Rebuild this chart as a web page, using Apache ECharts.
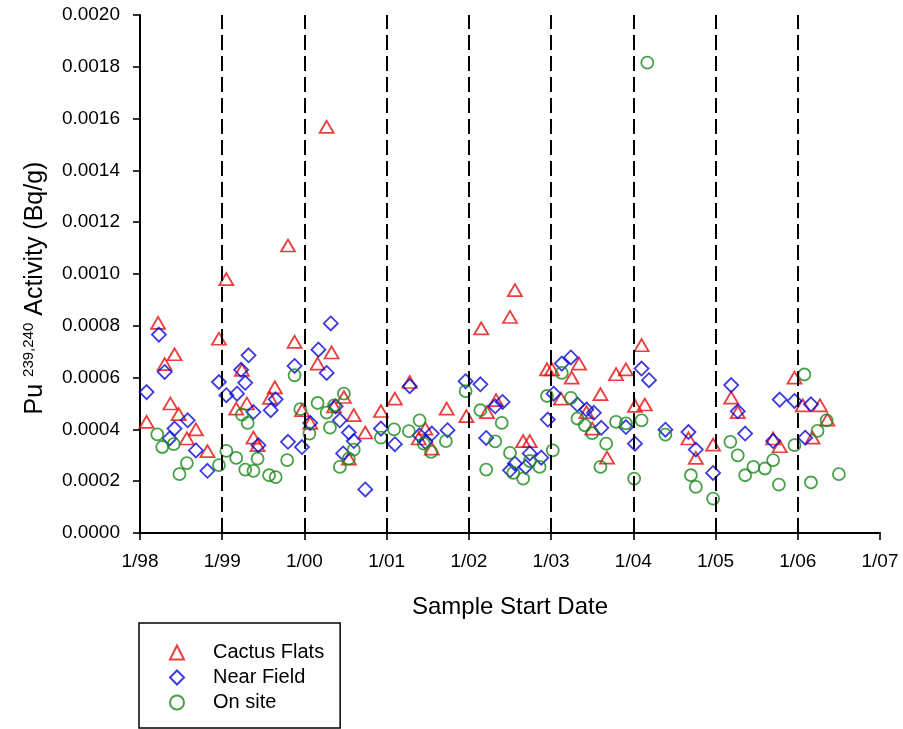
<!DOCTYPE html>
<html>
<head>
<meta charset="utf-8">
<title>Pu 239,240 Activity</title>
<script src="https://cdn.jsdelivr.net/npm/echarts@6/dist/echarts.min.js"></script>
<style>
  html, body { margin: 0; padding: 0; background: #fff; }
  #chart { width: 903px; height: 729px; }
</style>
</head>
<body>
<div id="chart"></div>
<script>
// Sample start dates are decimal years; activities in Bq/g.
const cactusDates = [
  1998.08, 1998.22, 1998.30, 1998.37, 1998.42, 1998.47, 1998.57, 1998.68, 1998.82, 1998.96,
  1999.05, 1999.17, 1999.24, 1999.30, 1999.38, 1999.43, 1999.58, 1999.64, 1999.80, 1999.88,
  1999.97, 2000.07, 2000.16, 2000.27, 2000.33, 2000.36, 2000.48, 2000.54, 2000.60, 2000.74,
  2000.93, 2001.10, 2001.28, 2001.39, 2001.47, 2001.55, 2001.73, 2001.97, 2002.15, 2002.22,
  2002.33, 2002.50, 2002.56, 2002.66, 2002.74, 2002.95, 2003.01, 2003.12, 2003.25, 2003.34,
  2003.43, 2003.50, 2003.60, 2003.68, 2003.79, 2003.91, 2004.02, 2004.10, 2004.14, 2004.67,
  2004.76, 2004.97, 2005.19, 2005.27, 2005.70, 2005.78, 2005.96, 2006.06, 2006.18, 2006.27,
  2006.36
];
const cactusValues = [
  0.000429, 0.000811, 0.000652, 0.000500, 0.000690, 0.000459, 0.000365, 0.000400, 0.000316, 0.000750,
  0.000980, 0.000480, 0.000630, 0.000500, 0.000368, 0.000339, 0.000522, 0.000562, 0.001110, 0.000738,
  0.000474, 0.000425, 0.000654, 0.001568, 0.000697, 0.000489, 0.000525, 0.000287, 0.000455, 0.000388,
  0.000471, 0.000519, 0.000583, 0.000365, 0.000403, 0.000326, 0.000480, 0.000451, 0.000790, 0.000467,
  0.000513, 0.000834, 0.000938, 0.000355, 0.000355, 0.000632, 0.000632, 0.000519, 0.000600, 0.000654,
  0.000467, 0.000403, 0.000536, 0.000291, 0.000613, 0.000632, 0.000491, 0.000725, 0.000496, 0.000365,
  0.000290, 0.000341, 0.000523, 0.000467, 0.000365, 0.000335, 0.000600, 0.000493, 0.000368, 0.000493,
  0.000438
];

const nearDates = [
  1998.08, 1998.23, 1998.30, 1998.36, 1998.42, 1998.58, 1998.68, 1998.82, 1998.96, 1999.05,
  1999.18, 1999.23, 1999.28, 1999.32, 1999.38, 1999.44, 1999.59, 1999.65, 1999.80, 1999.88,
  1999.97, 2000.07, 2000.17, 2000.27, 2000.32, 2000.38, 2000.43, 2000.47, 2000.54, 2000.60,
  2000.74, 2000.93, 2001.10, 2001.28, 2001.40, 2001.47, 2001.55, 2001.74, 2001.96, 2002.14,
  2002.21, 2002.32, 2002.41, 2002.50, 2002.56, 2002.69, 2002.74, 2002.88, 2002.96, 2003.03,
  2003.13, 2003.24, 2003.32, 2003.43, 2003.52, 2003.61, 2003.91, 2004.02, 2004.10, 2004.19,
  2004.39, 2004.67, 2004.76, 2004.97, 2005.19, 2005.27, 2005.36, 2005.70, 2005.78, 2005.96,
  2006.09, 2006.16
];
const nearValues = [
  0.000544, 0.000766, 0.000622, 0.000365, 0.000403, 0.000435, 0.000319, 0.000240, 0.000583, 0.000532,
  0.000538, 0.000630, 0.000580, 0.000686, 0.000467, 0.000339, 0.000474, 0.000516, 0.000352, 0.000645,
  0.000332, 0.000425, 0.000708, 0.000618, 0.000809, 0.000489, 0.000435, 0.000307, 0.000388, 0.000355,
  0.000168, 0.000403, 0.000343, 0.000567, 0.000377, 0.000352, 0.000384, 0.000397, 0.000586, 0.000574,
  0.000367, 0.000489, 0.000506, 0.000242, 0.000268, 0.000255, 0.000307, 0.000291, 0.000438, 0.000538,
  0.000654, 0.000678, 0.000496, 0.000477, 0.000464, 0.000406, 0.000409, 0.000345, 0.000635, 0.000590,
  0.000399, 0.000390, 0.000322, 0.000232, 0.000571, 0.000470, 0.000384, 0.000355, 0.000515, 0.000510,
  0.000368, 0.000497
];

const onsiteDates = [
  1998.21, 1998.27, 1998.41, 1998.48, 1998.57, 1998.96, 1999.05, 1999.17, 1999.24, 1999.28,
  1999.31, 1999.38, 1999.43, 1999.57, 1999.65, 1999.79, 1999.88, 1999.95, 2000.06, 2000.16,
  2000.27, 2000.31, 2000.36, 2000.43, 2000.48, 2000.54, 2000.60, 2000.93, 2001.09, 2001.27,
  2001.40, 2001.45, 2001.54, 2001.72, 2001.96, 2002.14, 2002.21, 2002.32, 2002.40, 2002.50,
  2002.54, 2002.66, 2002.74, 2002.86, 2002.95, 2003.02, 2003.13, 2003.24, 2003.32, 2003.41,
  2003.50, 2003.60, 2003.67, 2003.79, 2003.91, 2004.01, 2004.10, 2004.17, 2004.39, 2004.70,
  2004.76, 2004.97, 2005.18, 2005.27, 2005.36, 2005.46, 2005.60, 2005.70, 2005.77, 2005.96,
  2006.08, 2006.16, 2006.24, 2006.35, 2006.50
];
const onsiteValues = [
  0.000381, 0.000332, 0.000343, 0.000227, 0.000270, 0.000262, 0.000317, 0.000290, 0.000457, 0.000245,
  0.000425, 0.000240, 0.000287, 0.000223, 0.000216, 0.000281, 0.000609, 0.000478, 0.000384, 0.000502,
  0.000465, 0.000407, 0.000493, 0.000255, 0.000538, 0.000287, 0.000322, 0.000368, 0.000400, 0.000393,
  0.000435, 0.000345, 0.000313, 0.000355, 0.000548, 0.000474, 0.000245, 0.000354, 0.000425, 0.000309,
  0.000232, 0.000210, 0.000278, 0.000255, 0.000529, 0.000319, 0.000618, 0.000522, 0.000442, 0.000416,
  0.000386, 0.000255, 0.000345, 0.000429, 0.000423, 0.000210, 0.000435, 0.001816, 0.000380, 0.000223,
  0.000178, 0.000133, 0.000352, 0.000300, 0.000223, 0.000255, 0.000249, 0.000281, 0.000187, 0.000339,
  0.000612, 0.000195, 0.000394, 0.000435, 0.000227
];

// Year boundaries marked with dashed vertical lines
const yearLines = [1999, 2000, 2001, 2002, 2003, 2004, 2005, 2006];

const seriesNames = ['Cactus Flats', 'Near Field', 'On site'];

function pairs(xs, ys) {
  return xs.map((x, i) => [x, ys[i]]);
}

const FONT = 'Liberation Sans, Arial, sans-serif';

function hollow(color) {
  return { color: 'rgba(255,255,255,0)', borderColor: color, borderWidth: 1.8 };
}

const chart = echarts.init(document.getElementById('chart'), null, { renderer: 'canvas' });

chart.setOption({
  animation: false,
  backgroundColor: '#ffffff',
  textStyle: { fontFamily: FONT, color: '#000' },
  grid: { left: 140, right: 23, top: 15, bottom: 196, containLabel: false },
  xAxis: {
    type: 'value',
    min: 1998,
    max: 2007,
    interval: 1,
    name: 'Sample Start Date',
    nameLocation: 'middle',
    nameGap: 62,
    nameTextStyle: { fontSize: 24, color: '#000', fontFamily: FONT },
    axisLine: { show: true, onZero: false, lineStyle: { color: '#000', width: 2 } },
    axisTick: { show: true, inside: false, length: 7, lineStyle: { color: '#000', width: 1.6 } },
    axisLabel: {
      margin: 19,
      fontSize: 19,
      color: '#000',
      fontFamily: FONT,
      formatter: v => '1/' + String(Math.round(v)).slice(2)
    },
    splitLine: { show: false }
  },
  yAxis: {
    type: 'value',
    min: 0,
    max: 0.002,
    interval: 0.0002,
    name: '{b|Pu }{s|239,240}{b| Activity (Bq/g)}',
    nameLocation: 'middle',
    nameGap: 91,
    nameTextStyle: {
      color: '#000',
      fontFamily: FONT,
      padding: [0, 28, 0, 0],
      rich: {
        b: { fontSize: 25, lineHeight: 28, fontFamily: FONT, color: '#000' },
        s: { fontSize: 15, lineHeight: 16, verticalAlign: 'top', fontFamily: FONT, color: '#000' }
      }
    },
    axisLine: { show: true, onZero: false, lineStyle: { color: '#000', width: 2 } },
    axisTick: { show: true, inside: false, length: 7, lineStyle: { color: '#000', width: 1.6 } },
    axisLabel: {
      margin: 20,
      fontSize: 19,
      color: '#000',
      fontFamily: FONT,
      formatter: v => v.toFixed(4)
    },
    splitLine: { show: false }
  },
  legend: {
    data: seriesNames,
    orient: 'vertical',
    left: 139,
    top: 623,
    padding: [19, 16, 15, 30],
    itemGap: 4,
    itemWidth: 14,
    itemHeight: 14,
    borderColor: '#000',
    borderWidth: 1.5,
    borderRadius: 0,
    backgroundColor: '#fff',
    textStyle: { fontSize: 20, lineHeight: 21, color: '#000', fontFamily: FONT, padding: [0, 0, 0, 24] }
  },
  series: [
    {
      name: 'yearLines',
      type: 'scatter',
      data: [],
      silent: true,
      z: 1,
      markLine: {
        silent: true,
        symbol: 'none',
        animation: false,
        label: { show: false },
        lineStyle: { color: '#000', type: [15, 6], width: 2 },
        data: yearLines.map(y => ({ xAxis: y }))
      }
    },
    {
      name: seriesNames[0],
      type: 'scatter',
      symbol: 'triangle',
      symbolSize: [14, 12],
      itemStyle: hollow('#e60f0f'),
      z: 3,
      data: pairs(cactusDates, cactusValues)
    },
    {
      name: seriesNames[1],
      type: 'scatter',
      symbol: 'diamond',
      symbolSize: [14, 14],
      itemStyle: hollow('#0a0ad8'),
      z: 3,
      data: pairs(nearDates, nearValues)
    },
    {
      name: seriesNames[2],
      type: 'scatter',
      symbol: 'circle',
      symbolSize: 12,
      itemStyle: hollow('#1a8a1a'),
      z: 3,
      data: pairs(onsiteDates, onsiteValues)
    }
  ]
});
</script>
</body>
</html>
